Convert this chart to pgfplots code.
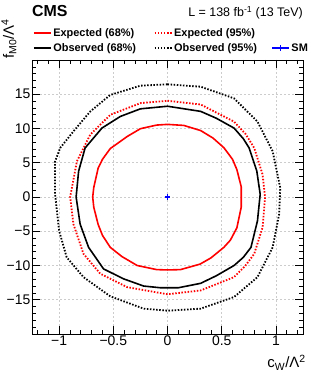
\documentclass[border=0pt]{standalone}
\usepackage{fontspec}
\setmainfont{Liberation Sans}
\usepackage{pgfplots}
\pgfplotsset{compat=1.18}
\definecolor{rootred}{RGB}{255,0,0}
\definecolor{rootblue}{RGB}{0,0,255}
\pgfplotsset{
  myline legend/.style={legend image code/.code={\draw[##1] (0bp,0bp) -- (17bp,0bp);}},
  mysm legend/.style={legend image code/.code={\path (0bp,0bp) -- (17bp,0bp); \draw[##1] plot coordinates {(8.5bp,0bp)};}},
}
\begin{document}
\begin{tikzpicture}
\useasboundingbox (0,0) rectangle (319bp,375bp);
\begin{axis}[
  at={(32bp,41bp)}, anchor=south west,
  scale only axis, width=271bp, height=274bp,
  xmin=-1.25, xmax=1.25, ymin=-20, ymax=20,
  xtick={-1,-0.5,0,0.5,1},
  xticklabels={−1,−0.5,0,0.5,1},
  ytick={-15,-10,-5,0,5,10,15},
  yticklabels={−15,−10,−5,0,5,10,15},
  minor xtick={-1.2,-1.1,-0.9,-0.8,-0.7,-0.6,-0.4,-0.3,-0.2,-0.1,0.1,0.2,0.3,0.4,0.6,0.7,0.8,0.9,1.1,1.2},
  minor ytick={-19,-18,-17,-16,-14,-13,-12,-11,-9,-8,-7,-6,-4,-3,-2,-1,1,2,3,4,6,7,8,9,11,12,13,14,16,17,18,19},
  tick align=inside,
  major tick length=8bp, minor tick length=4bp,
  tick style={black, line width=0.6bp},
  axis line style={line width=0.8bp},
  grid=major,
  major grid style={gray!40, dash pattern=on 2bp off 2bp, line width=0.5bp},
  ticklabel style={font=\fontsize{14}{16}\selectfont, inner sep=1.5bp},
  xlabel={c\textsubscript{W}/Λ\textsuperscript{2}},
  ylabel={f\textsubscript{M0}/Λ\textsuperscript{4}},
  xlabel style={at={(axis description cs:1.011,-0.077)}, anchor=north east, inner sep=0pt, font=\fontsize{15}{17}\selectfont},
  ylabel style={at={(axis description cs:-0.085,1.15)}, anchor=east, inner sep=0pt, font=\fontsize{15}{17}\selectfont},
  legend columns=3,
  legend cell align=left,
  legend style={draw=none, fill=none, inner sep=0pt, row sep=2.5bp, column sep=0bp,
    at={(axis description cs:0,1)}, anchor=south west, xshift=1bp, yshift=5.5bp,
    font=\fontsize{11}{13}\selectfont\bfseries,
    nodes={inner sep=1.5bp}},
  myline legend,
]
\addlegendimage{myline legend, rootred, line width=1.6bp}
\addlegendentry{\makebox[99bp][l]{Expected (68\%)}}
\addlegendimage{myline legend, rootred, line width=1.8bp, dash pattern=on 1.5bp off 1.6bp}
\addlegendentry{\makebox[96bp][l]{Expected (95\%)}}
\addlegendimage{empty legend}
\addlegendentry{}
\addlegendimage{myline legend, black, line width=1.6bp}
\addlegendentry{\makebox[99bp][l]{Observed (68\%)}}
\addlegendimage{myline legend, black, line width=1.8bp, dash pattern=on 1.5bp off 1.6bp}
\addlegendentry{\makebox[96bp][l]{Observed (95\%)}}
\addlegendimage{mysm legend, mark=+, rootblue, mark size=2.8bp, line width=1.4bp}
\addlegendentry{SM}

% Observed 95%
\addplot[black, line width=1.8bp, dash pattern=on 1.5bp off 1.6bp, forget plot] coordinates {
(0,16.45) (0.306,16.1) (0.614,14.4) (0.83,11.0) (0.97,6.68) (1.04,1.35) (1.03,-2.5) (0.97,-7.35) (0.83,-11.7) (0.614,-14.6) (0.306,-16.3) (0,-16.6) (-0.22,-16.3) (-0.528,-14.5) (-0.775,-11.7) (-0.93,-8.8) (-1.0,-4.93) (-1.037,0.39) (-1.037,5.2) (-0.99,7.16) (-0.868,9.58) (-0.713,12.48) (-0.528,14.9) (-0.25,16.25) (0,16.45)};
% Expected 95%
\addplot[rootred, line width=1.8bp, dash pattern=on 1.5bp off 1.6bp, forget plot] coordinates {
(0,14.05) (0.306,13.5) (0.614,11.0) (0.72,9.2) (0.8,7.16) (0.877,3.29) (0.9,0) (0.877,-4.45) (0.8,-8.3) (0.72,-10.0) (0.614,-11.7) (0.306,-13.64) (0,-14.2) (-0.373,-13.16) (-0.62,-11.2) (-0.775,-8.3) (-0.868,-3.96) (-0.898,0) (-0.836,5.2) (-0.713,9.1) (-0.528,12.0) (-0.25,13.7) (0,14.05)};
% Observed 68%
\addplot[black, line width=1.6bp, line join=round, forget plot] coordinates {
(0,13.25) (0.306,12.5) (0.45,11.5) (0.614,10.06) (0.7,8.5) (0.753,7.16) (0.824,3.77) (0.855,0.4) (0.83,-3.48) (0.77,-7.35) (0.7,-8.8) (0.614,-10.0) (0.45,-11.5) (0.306,-12.6) (0.1,-13.25) (-0.065,-13.25) (-0.22,-13.0) (-0.405,-11.95) (-0.59,-10.5) (-0.728,-7.35) (-0.806,-3.96) (-0.843,0) (-0.82,3.77) (-0.76,7.16) (-0.605,10.06) (-0.435,11.76) (-0.25,12.87) (0,13.25)};
% Expected 68%
\addplot[rootred, line width=1.6bp, line join=round, forget plot] coordinates {
(0,10.6) (0.15,10.45) (0.306,9.7) (0.42,8.6) (0.52,7.2) (0.6,5.5) (0.64,4.0) (0.68,1.5) (0.68,-1.5) (0.64,-4.5) (0.58,-6.3) (0.52,-7.35) (0.4,-8.9) (0.3,-9.8) (0.12,-10.6) (0,-10.65) (-0.1,-10.6) (-0.28,-10.0) (-0.42,-8.7) (-0.528,-7.35) (-0.6,-5.6) (-0.64,-4.0) (-0.68,-1.5) (-0.69,0) (-0.68,1.4) (-0.64,4.2) (-0.6,5.5) (-0.528,7.07) (-0.37,8.85) (-0.25,9.97) (-0.1,10.5) (0,10.6)};
% SM
\addplot[only marks, mark=+, rootblue, mark size=2.8bp, line width=1.4bp, forget plot] coordinates {(0,0)};
\end{axis}
\node[anchor=base west, inner sep=0pt, font=\fontsize{16}{18}\selectfont\bfseries] at (32bp,358bp) {CMS};
\node[anchor=base east, inner sep=0pt, font=\fontsize{12.5}{14}\selectfont] at (303bp,358bp) {L = 138 fb\textsuperscript{-1} (13 TeV)};
\end{tikzpicture}
\end{document}
